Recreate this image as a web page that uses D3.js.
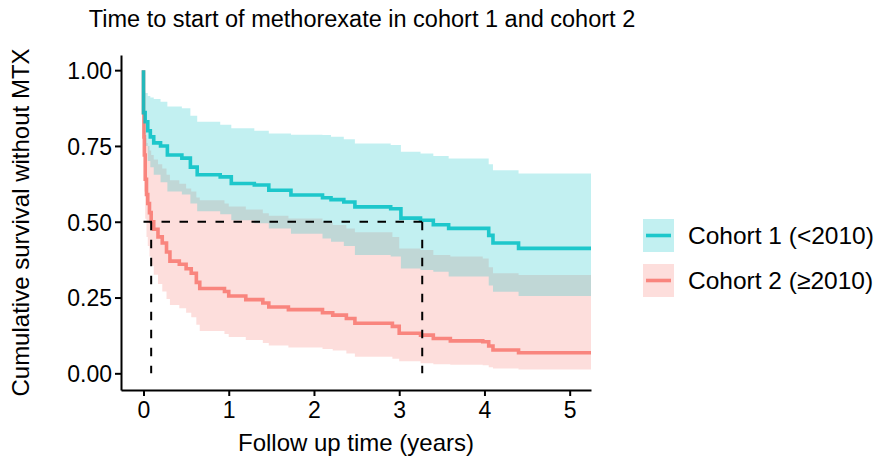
<!DOCTYPE html>
<html>
<head>
<meta charset="utf-8">
<script src="https://cdn.jsdelivr.net/npm/d3@7"></script>
<style>
  html, body { margin: 0; padding: 0; background: #fff; }
  svg { display: block; font-family: "Liberation Sans", Arial, Helvetica, sans-serif; }
</style>
</head>
<body>
<svg id="chart" width="876" height="465"></svg>
<script>
// ---- Data ----
const titleText = "Time to start of methorexate in cohort 1 and cohort 2";
const xLabel = "Follow up time (years)";
const yLabel = "Cumulative survival without MTX";
const groups = ["Cohort 1 (<2010)", "Cohort 2 (\u22652010)"];
const colors = ["#00BFC4", "#F8766D"];
const xTicks = [0, 1, 2, 3, 4, 5];
const yTicks = [0, 0.25, 0.5, 0.75, 1];

// Cohort 1
const time1 = [0, 0, 0.02, 0.05, 0.08, 0.12, 0.2, 0.28, 0.45, 0.55, 0.63, 0.9, 1.03, 1.3, 1.47, 1.73, 2.1, 2.2, 2.35, 2.48, 2.9, 3.02, 3.25, 3.4, 3.58, 4.05, 4.1, 4.4, 5.25];
const surv1 = [1.0, 0.86, 0.83, 0.80, 0.78, 0.76, 0.75, 0.72, 0.71, 0.68, 0.655, 0.648, 0.626, 0.621, 0.604, 0.588, 0.579, 0.573, 0.565, 0.549, 0.543, 0.512, 0.505, 0.49, 0.478, 0.455, 0.43, 0.412, 0.412];
const upper1 = [1.0, 0.93, 0.925, 0.915, 0.91, 0.905, 0.896, 0.88, 0.874, 0.85, 0.83, 0.82, 0.808, 0.80, 0.791, 0.787, 0.786, 0.78, 0.772, 0.758, 0.753, 0.731, 0.725, 0.717, 0.709, 0.69, 0.67, 0.659, 0.659];
const lower1 = [1.0, 0.79, 0.75, 0.70, 0.68, 0.655, 0.63, 0.60, 0.59, 0.56, 0.535, 0.525, 0.505, 0.495, 0.478, 0.46, 0.445, 0.434, 0.42, 0.39, 0.385, 0.346, 0.341, 0.335, 0.319, 0.29, 0.269, 0.255, 0.255];

// Cohort 2
const time2 = [0, 0, 0.005, 0.01, 0.02, 0.035, 0.05, 0.07, 0.09, 0.12, 0.17, 0.22, 0.27, 0.31, 0.42, 0.5, 0.56, 0.62, 0.66, 0.95, 1.0, 1.2, 1.4, 1.47, 1.7, 2.1, 2.22, 2.38, 2.48, 2.92, 3.0, 3.25, 3.4, 3.6, 3.98, 4.05, 4.1, 4.4, 5.25];
const surv2 = [1.0, 0.86, 0.78, 0.72, 0.64, 0.59, 0.56, 0.53, 0.50, 0.475, 0.45, 0.43, 0.40, 0.37, 0.36, 0.345, 0.33, 0.30, 0.28, 0.27, 0.255, 0.243, 0.232, 0.219, 0.21, 0.2, 0.192, 0.181, 0.165, 0.155, 0.132, 0.126, 0.115, 0.107, 0.104, 0.09, 0.077, 0.068, 0.068];
const upper2 = [1.0, 0.91, 0.85, 0.80, 0.775, 0.76, 0.75, 0.735, 0.72, 0.705, 0.69, 0.676, 0.655, 0.637, 0.625, 0.61, 0.60, 0.58, 0.571, 0.56, 0.55, 0.54, 0.528, 0.52, 0.511, 0.50, 0.489, 0.478, 0.465, 0.45, 0.412, 0.407, 0.39, 0.385, 0.379, 0.35, 0.33, 0.324, 0.324];
const lower2 = [1.0, 0.78, 0.68, 0.60, 0.51, 0.45, 0.42, 0.385, 0.355, 0.325, 0.295, 0.27, 0.245, 0.225, 0.215, 0.2, 0.185, 0.16, 0.14, 0.13, 0.12, 0.11, 0.1, 0.092, 0.085, 0.08, 0.075, 0.065, 0.055, 0.048, 0.04, 0.033, 0.03, 0.028, 0.027, 0.02, 0.016, 0.013, 0.013];

// Median survival times (dashed reference lines)
const medianLevel = 0.5;
const medians = [3.27, 0.09];

// ---- Layout ----
const svg = d3.select("#chart");
const panel = { left: 121, right: 591, top: 55, bottom: 390 };

const x = d3.scaleLinear().domain([-0.264, 5.25]).range([panel.left, panel.right]);
const y = d3.scaleLinear().domain([-0.055, 1.05]).range([panel.bottom, panel.top]);

const toRows = (t, s, u, l) => t.map((d, i) => ({ t: d, s: s[i], u: u[i], l: l[i] }));
const cohorts = [toRows(time1, surv1, upper1, lower1), toRows(time2, surv2, upper2, lower2)];

const area = d3.area().curve(d3.curveStepAfter)
  .x(d => x(d.t)).y0(d => y(d.l)).y1(d => y(d.u));
const line = d3.line().curve(d3.curveStepAfter)
  .x(d => x(d.t)).y(d => y(d.s));

const fillOpacity = 0.24;

// Ribbons: cohort 2 first, cohort 1 on top
[1, 0].forEach(i => {
  svg.append("path").datum(cohorts[i])
    .attr("d", area)
    .attr("fill", colors[i])
    .attr("fill-opacity", fillOpacity)
    .attr("stroke", "none");
});

// Lines
[1, 0].forEach(i => {
  svg.append("path").datum(cohorts[i])
    .attr("d", line)
    .attr("fill", "none")
    .attr("stroke", colors[i])
    .attr("stroke-width", 3.6)
    .attr("stroke-opacity", 0.85)
    .attr("stroke-linejoin", "miter");
});

// Median dashed lines
const dash = "8.5,9.5";
const maxMedian = d3.max(medians);
svg.append("line")
  .attr("x1", x(0)).attr("x2", x(maxMedian))
  .attr("y1", y(medianLevel)).attr("y2", y(medianLevel))
  .attr("stroke", "#000").attr("stroke-width", 2).attr("stroke-dasharray", dash);
medians.forEach(m => {
  svg.append("line")
    .attr("x1", x(m)).attr("x2", x(m))
    .attr("y1", y(medianLevel)).attr("y2", y(0))
    .attr("stroke", "#000").attr("stroke-width", 2).attr("stroke-dasharray", dash);
});

// Axes
const tickFont = 23;
const xAxis = svg.append("g")
  .attr("transform", `translate(0,${panel.bottom})`)
  .call(d3.axisBottom(x).tickValues(xTicks).tickFormat(d3.format("d")).tickSize(6).tickSizeOuter(0).tickPadding(4));
const yAxis = svg.append("g")
  .attr("transform", `translate(${panel.left},0)`)
  .call(d3.axisLeft(y).tickValues(yTicks).tickFormat(d3.format(".2f")).tickSize(6).tickSizeOuter(0).tickPadding(3));

[xAxis, yAxis].forEach(g => {
  g.select(".domain").attr("stroke", "#000").attr("stroke-width", 2);
  g.selectAll(".tick line").attr("stroke", "#000").attr("stroke-width", 2);
  g.selectAll(".tick text").attr("fill", "#000").attr("font-size", tickFont)
    .attr("font-family", "'Liberation Sans', Arial, sans-serif");
});
xAxis.selectAll(".tick text").attr("dy", "0.78em");
yAxis.selectAll(".tick text").attr("dy", "0.36em");

// Axis titles
svg.append("text")
  .attr("x", (panel.left + panel.right) / 2)
  .attr("y", 451)
  .attr("text-anchor", "middle")
  .attr("font-size", 24)
  .attr("fill", "#000")
  .text(xLabel);

svg.append("text")
  .attr("transform", `translate(29,${(panel.top + panel.bottom) / 2}) rotate(-90)`)
  .attr("text-anchor", "middle")
  .attr("font-size", 24)
  .attr("fill", "#000")
  .text(yLabel);

// Title
svg.append("text")
  .attr("x", 362)
  .attr("y", 27)
  .attr("text-anchor", "middle")
  .attr("font-size", 23.5)
  .attr("fill", "#000")
  .text(titleText);

// Legend
const legend = svg.append("g").attr("transform", "translate(643,219)");
groups.forEach((g, i) => {
  const row = legend.append("g").attr("transform", `translate(0,${i * 45})`);
  row.append("rect").attr("x", 0).attr("y", 0).attr("width", 31).attr("height", 33)
    .attr("fill", colors[i]).attr("fill-opacity", fillOpacity);
  row.append("line").attr("x1", 3).attr("x2", 28).attr("y1", 16.5).attr("y2", 16.5)
    .attr("stroke", colors[i]).attr("stroke-width", 3.6).attr("stroke-opacity", 0.85);
  row.append("text").attr("x", 45).attr("y", 16.5).attr("dy", "0.36em")
    .attr("font-size", 24.5).attr("fill", "#000").text(g);
});
</script>
</body>
</html>
